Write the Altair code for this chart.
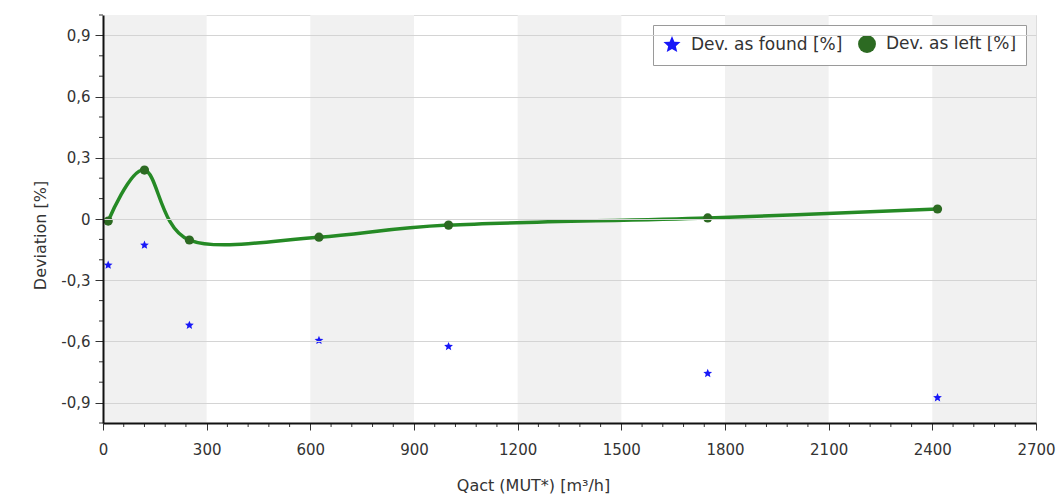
import altair as alt
import pandas as pd

# data
qact = [15, 120, 250, 625, 1000, 1750, 2415]
dev_found = [-0.226, -0.128, -0.521, -0.595, -0.625, -0.757, -0.876]
dev_left = [-0.01, 0.24, -0.103, -0.089, -0.03, 0.005, 0.049]
band_start = [0, 600, 1200, 1800, 2400]
band_end = [300, 900, 1500, 2100, 2700]
series_names = ["Dev. as found [%]", "Dev. as left [%]"]

x_major = list(range(0, 2701, 300))
x_minor = [v for v in range(0, 2701, 60) if v % 300 != 0]
y_major = [-0.9, -0.6, -0.3, 0.0, 0.3, 0.6, 0.9]
y_minor = [-1.0, -0.8, -0.7, -0.5, -0.4, -0.2, -0.1, 0.1, 0.2, 0.4, 0.5, 0.7, 0.8, 1.0]

FONT = "DejaVu Sans"
W, H = 933, 408
STAR = ("M0,-1L0.265,-0.364L0.951,-0.309L0.428,0.139L0.588,0.809L0,0.45"
        "L-0.588,0.809L-0.428,0.139L-0.951,-0.309L-0.265,-0.364Z")

pts = pd.DataFrame({
    "q": qact * 2,
    "dev": dev_found + dev_left,
    "series": [series_names[0]] * len(qact) + [series_names[1]] * len(qact),
})
left_df = pd.DataFrame({"q": qact, "dev": dev_left})
bands = pd.DataFrame({"s": band_start, "e": band_end})

xscale = alt.Scale(domain=[0, 2700], nice=False, zero=False)
yscale = alt.Scale(domain=[-1, 1], nice=False, zero=False)

color_scale = alt.Scale(domain=series_names, range=["#1818f8", "#2c6a22"])
shape_scale = alt.Scale(domain=series_names, range=[STAR, "circle"])

x_axis = alt.Axis(
    values=x_major, format="d", tickSize=7, grid=False, zindex=1,
    domainColor="#111", domainWidth=2, tickColor="#333",
    labelFont=FONT, labelFontSize=15, labelColor="#333", labelPadding=12,
    title="Qact (MUT*) [m³/h]", titleFont=FONT, titleFontSize=16,
    titleFontWeight="normal", titleColor="#333", titlePadding=20,
    titleX=430, titleAnchor="start", titleAlign="center",
    labelOverlap=False, labelFlush=False,
)
y_axis = alt.Axis(
    values=y_major, tickSize=8, zindex=1,
    labelExpr="datum.value == 0 ? '0' : replace(replace(format(datum.value, '.1f'), '.', ','), '\u2212', '-')",
    grid=True, gridColor="#d4d4d4",
    domainColor="#111", domainWidth=2, tickColor="#333",
    labelFont=FONT, labelFontSize=15, labelColor="#333", labelPadding=5,
    title="Deviation [%]", titleFont=FONT, titleFontSize=16,
    titleFontWeight="normal", titleColor="#333", titlePadding=12,
    titleY=220, titleAnchor="start", titleAlign="center",
    labelOverlap=False, labelFlush=False,
)

band_layer = alt.Chart(bands).mark_rect(color="#f1f1f1").encode(
    x=alt.X("s:Q", scale=xscale, axis=x_axis),
    x2="e:Q",
    y=alt.Y("lo:Q", scale=yscale, axis=y_axis),
    y2="hi:Q",
).transform_calculate(lo="-1", hi="1")

xminor_layer = alt.Chart(pd.DataFrame({"t": x_minor})).mark_rule(
    color="#333", clip=False
).encode(
    x=alt.X("t:Q", scale=xscale),
    y=alt.value(H), y2=alt.value(H + 4),
)
yminor_layer = alt.Chart(pd.DataFrame({"t": y_minor})).mark_rule(
    color="#333", clip=False
).encode(
    y=alt.Y("t:Q", scale=yscale),
    x=alt.value(-4), x2=alt.value(0),
)

line_layer = alt.Chart(left_df).mark_line(
    interpolate="cardinal", strokeWidth=3.5, color="#258a25"
).encode(
    x=alt.X("q:Q", scale=xscale),
    y=alt.Y("dev:Q", scale=yscale),
)

point_layer = alt.Chart(pts).mark_point(filled=True, opacity=1, size=85).encode(
    x=alt.X("q:Q", scale=xscale),
    y=alt.Y("dev:Q", scale=yscale),
    color=alt.Color("series:N", scale=color_scale, legend=alt.Legend(
        title=None, orient="top-right", direction="horizontal", offset=10,
        strokeColor="#9a9a9a", fillColor="white", padding=9,
        labelFont=FONT, labelFontSize=17, labelColor="#333",
        symbolSize=320, columnPadding=12, symbolOpacity=1, labelOffset=9,
    )),
    shape=alt.Shape("series:N", scale=shape_scale),
)

chart = alt.layer(
    band_layer, xminor_layer, yminor_layer, line_layer, point_layer
).properties(
    width=W, height=H,
    padding={"left": 103, "top": 15, "right": 20, "bottom": 72},
    autosize=alt.AutoSizeParams(type="none"),
).configure_view(stroke="#333", strokeWidth=1).configure(background="white")

chart.save("out.html", embed_options={"renderer": "svg", "actions": False})
